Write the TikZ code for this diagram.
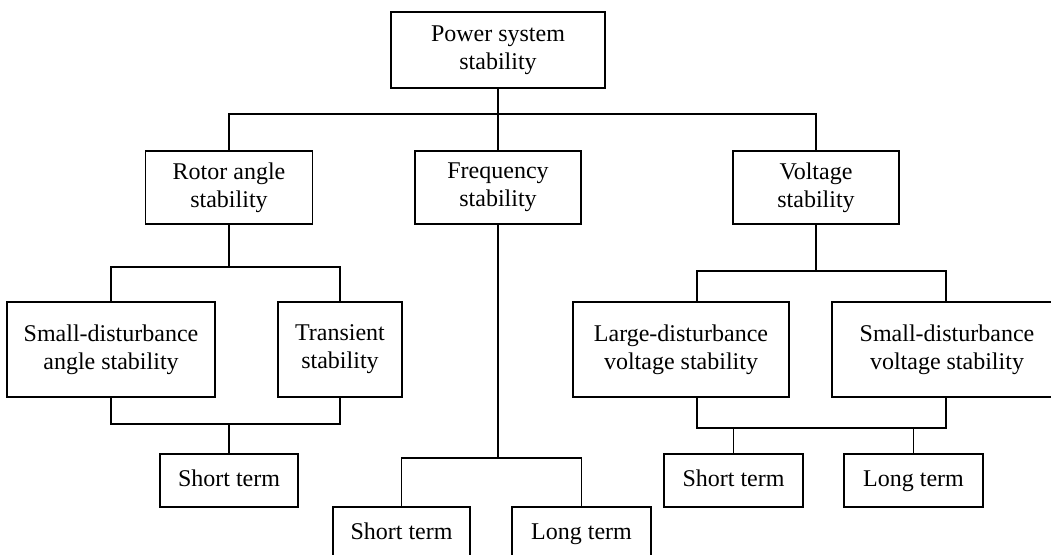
\documentclass[tikz,border=0pt]{standalone}
\usepackage{fontspec}
\setmainfont{Liberation Serif}
\usetikzlibrary{positioning}

\tikzset{
  box/.style={draw, line width=0.6pt, align=center, inner sep=2pt,
    font=\fontsize{12}{14}\selectfont},
  term/.style={box, text height=8.5pt, text depth=2.5pt},
  wire/.style={line width=0.6pt}
}

\begin{document}
\begin{tikzpicture}[x=0.5pt, y=-0.5pt]
    \useasboundingbox (0,0) rectangle (1051,555);
    \clip (0,0) rectangle (1051,555);

    % Top level
    \node[box, minimum width=107pt, minimum height=38pt] (pss) at (498,50) {Power system\\stability};

    % Three kinds of stability
    \node[box, minimum width=83.5pt, minimum height=36.5pt] (ras) at (229,187.5) {Rotor angle\\stability};
    \node[box, minimum width=83pt, minimum height=36.5pt] (fs) at (498,187.5) {Frequency\\stability};
    \node[box, minimum width=83pt, minimum height=36.5pt] (vs) at (816,187.5) {Voltage\\stability};

    % Rotor angle branch
    \node[box, minimum width=104pt, minimum height=47.5pt] (sdas) at (111,349.5) {Small-disturbance\\angle stability};
    \node[box, minimum width=62pt, minimum height=47.5pt] (ts) at (340,349.5) {Transient\\stability};
    \node[term, minimum width=69pt, minimum height=26.5pt] (rst) at (229,480.5) {Short term};

    % Frequency branch
    \node[term, minimum width=68.5pt, minimum height=26.5pt] (fst) at (401.5,533.5) {Short term};
    \node[term, minimum width=69.5pt, minimum height=26.5pt] (flt) at (581.5,533.5) {Long term};

    % Voltage branch
    \node[box, minimum width=108pt, minimum height=47.5pt] (ldvs) at (681,349.5) {Large-disturbance\\voltage stability};
    \node[box, minimum width=115pt, minimum height=47.5pt] (sdvs) at (947,349.5) {Small-disturbance\\voltage stability};
    \node[term, minimum width=69.5pt, minimum height=26.5pt] (vst) at (733.5,480.5) {Short term};
    \node[term, minimum width=69.5pt, minimum height=26.5pt] (vlt) at (913.5,480.5) {Long term};

    % Junctions
    \coordinate (top) at (498,114);
    \coordinate (rtop) at (229,267);
    \coordinate (rbot) at (229,424);
    \coordinate (ftop) at (498,458);
    \coordinate (vtop) at (697,271);
    \coordinate (vbot) at (697,428);
    \coordinate (vright) at (946,271);

    % Connectors
    \draw[wire] (pss) -- (fs);
    \draw[wire] (ras.north) |- (top) -| (vs.north);

    \draw[wire] (ras) -- (rtop);
    \draw[wire] (sdas.north) |- (rtop) -| (ts.north);
    \draw[wire] (sdas.south) |- (rbot) -| (ts.south);
    \draw[wire] (rbot) -- (rst);

    \draw[wire] (fs) -- (ftop);
    \draw[wire] (fst.north) |- (ftop) -| (flt.north);

    \draw[wire] (vs) -- (vs |- vtop);
    \draw[wire] (ldvs.north -| vtop) -- (vtop) -- (vright) -- (sdvs.north -| vright);
    \draw[wire] (ldvs.south -| vbot) -- (vbot) -| (sdvs.south -| vright);
    \draw[wire] (vst.north) -- (vst.north |- vbot);
    \draw[wire] (vlt.north) -- (vlt.north |- vbot);
\end{tikzpicture}
\end{document}
